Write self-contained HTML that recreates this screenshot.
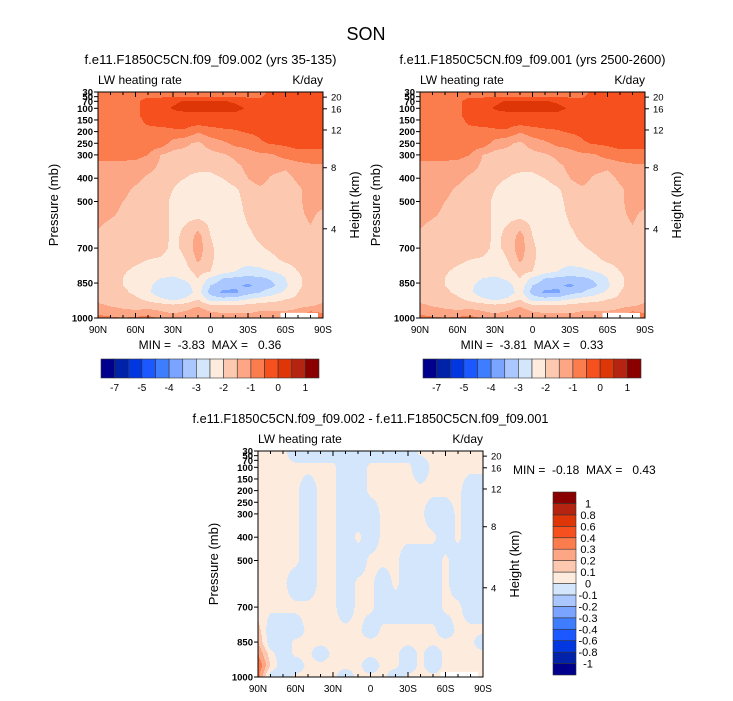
<!DOCTYPE html>
<html><head><meta charset="utf-8"><title>SON LW heating rate</title>
<style>
html,body{margin:0;padding:0;background:#fff;}
svg{display:block;font-family:"Liberation Sans",Arial,sans-serif;}
</style></head>
<body>
<svg id="fig" width="733" height="701" viewBox="0 0 733 701" xmlns="http://www.w3.org/2000/svg">
<text x="366" y="40" font-size="18" text-anchor="middle">SON</text>
</svg>
<script>
// ---------- data ----------
const lats = [90,80,70,60,50,40,30,20,10,0,-10,-20,-30,-40,-50,-60,-70,-80,-90];
const latTickVals = [90,60,30,0,-30,-60,-90];
const latTickLabels = ["90N","60N","30N","0","30S","60S","90S"];
const presTickVals = [30,50,70,100,150,200,250,300,400,500,700,850,1000];
const presTickLabels = ["30","50","70","100","150","200","250","300","400","500","700","850","1000"];
const heightTickLabels = ["20","16","12","8","4"];
const heightTickPres = [52,102,193,355,617];
const levelsTop = [30,50,70,100,130,160,200,250,300,350,400,450,500,550,600,650,700,750,800,830,860,890,920,950,980,1000];
const fieldTop = [
[-0.7,-0.7,-0.7,-0.7,-0.7,-0.7,-0.7,-0.7,-0.7,-0.7,-0.7,-0.7,-0.7,-0.7,-0.3,-0.3,-0.3,-0.3,-0.3],
[-0.7,-0.7,-0.7,-0.7,-0.55,-0.55,-0.55,-0.55,-0.55,-0.55,-0.55,-0.55,-0.55,-0.55,-0.3,-0.3,-0.3,-0.3,-0.3],
[-0.7,-0.7,-0.7,-0.6,-0.3,-0.3,-0.1,0.05,0.05,0.05,0.05,-0.1,-0.3,-0.3,-0.3,-0.3,-0.3,-0.3,-0.3],
[-0.7,-0.7,-0.7,-0.6,-0.3,-0.2,0.05,0.2,0.2,0.2,0.2,0.2,-0.1,-0.3,-0.3,-0.3,-0.3,-0.3,-0.3],
[-0.7,-0.7,-0.7,-0.6,-0.3,-0.3,-0.2,-0.2,-0.2,-0.2,-0.2,-0.2,-0.3,-0.3,-0.3,-0.3,-0.3,-0.3,-0.3],
[-0.7,-0.7,-0.7,-0.7,-0.4,-0.3,-0.3,-0.3,-0.3,-0.3,-0.3,-0.3,-0.3,-0.3,-0.3,-0.3,-0.3,-0.3,-0.3],
[-0.7,-0.7,-0.7,-0.7,-0.7,-0.7,-0.6,-0.6,-0.95,-0.7,-0.6,-0.55,-0.45,-0.4,-0.3,-0.3,-0.3,-0.3,-0.3],
[-0.7,-0.7,-0.7,-0.7,-0.7,-0.7,-1.2,-1.4,-1.6,-1.3,-1.1,-0.85,-0.8,-0.55,-0.45,-0.4,-0.3,-0.3,-0.3],
[-0.8,-0.8,-0.8,-0.85,-1.0,-1.5,-1.7,-1.7,-1.7,-1.65,-1.55,-1.4,-1.2,-1.1,-1.05,-0.8,-0.7,-0.7,-0.7],
[-1.2,-1.2,-1.2,-1.2,-1.3,-1.6,-1.8,-1.9,-1.9,-1.9,-1.8,-1.6,-1.4,-1.2,-1.3,-1.4,-1.2,-1.1,-1.1],
[-1.2,-1.2,-1.2,-1.35,-1.6,-1.7,-1.85,-2.0,-2.1,-2.1,-2.0,-1.7,-1.5,-1.3,-1.6,-1.7,-1.4,-1.2,-1.2],
[-1.2,-1.2,-1.35,-1.6,-1.7,-1.8,-2.0,-2.3,-2.3,-2.3,-2.3,-2.1,-1.7,-1.6,-1.7,-1.7,-1.6,-1.3,-1.2],
[-1.2,-1.3,-1.5,-1.7,-1.75,-1.8,-2.1,-2.3,-2.3,-2.3,-2.3,-2.2,-1.8,-1.7,-1.7,-1.7,-1.6,-1.3,-1.3],
[-1.3,-1.4,-1.6,-1.7,-1.75,-1.8,-2.1,-2.2,-2.3,-2.3,-2.3,-2.2,-1.9,-1.75,-1.75,-1.7,-1.6,-1.4,-1.6],
[-1.45,-1.6,-1.7,-1.75,-1.75,-1.8,-2.1,-2.0,-1.7,-2.1,-2.3,-2.25,-2.0,-1.8,-1.75,-1.7,-1.65,-1.5,-1.7],
[-1.6,-1.65,-1.7,-1.75,-1.75,-1.8,-2.1,-1.9,-1.3,-2.0,-2.3,-2.3,-2.1,-1.9,-1.8,-1.7,-1.7,-1.6,-1.7],
[-1.7,-1.7,-1.75,-1.8,-1.8,-1.85,-2.1,-1.9,-1.2,-1.9,-2.3,-2.3,-2.2,-2.05,-1.9,-1.8,-1.75,-1.7,-1.7],
[-1.7,-1.8,-1.8,-1.9,-2.0,-2.05,-2.2,-2.0,-1.4,-1.9,-2.3,-2.4,-2.4,-2.3,-2.1,-1.9,-1.8,-1.7,-1.7],
[-1.7,-1.8,-1.95,-2.1,-2.2,-2.2,-2.25,-2.2,-1.8,-2.0,-2.3,-2.5,-2.6,-2.6,-2.5,-2.3,-2.0,-1.8,-1.7],
[-1.7,-1.8,-2.0,-2.2,-2.3,-2.5,-2.6,-2.4,-2.0,-2.6,-3.0,-3.1,-3.2,-3.1,-2.9,-2.5,-2.1,-1.8,-1.7],
[-1.7,-1.8,-2.0,-2.2,-2.4,-2.7,-2.8,-2.7,-2.2,-3.0,-3.3,-3.4,-3.6,-3.3,-3.1,-2.6,-2.1,-1.8,-1.7],
[-1.7,-1.7,-1.9,-2.1,-2.4,-2.8,-2.9,-2.8,-2.3,-3.2,-3.6,-3.6,-3.2,-3.0,-2.7,-2.4,-2.0,-1.8,-1.7],
[-1.6,-1.7,-1.8,-1.9,-2.1,-2.4,-2.6,-2.4,-2.0,-2.7,-2.8,-2.7,-2.5,-2.3,-2.2,-2.0,-1.9,-1.8,-1.6],
[-1.4,-1.5,-1.6,-1.7,-1.7,-1.7,-1.8,-1.7,-1.5,-1.8,-1.8,-1.8,-1.8,-1.7,-1.7,-1.7,-1.6,-1.5,-1.4],
[-1.1,-1.2,-1.3,-1.3,-1.2,-1.4,-1.5,-1.4,-1.2,-1.4,-1.5,-1.5,-1.5,-1.4,-1.4,-1.4,-1.3,-0.8,-1.0],
[-0.8,-0.9,-1.0,-0.9,-0.8,-1.1,-1.3,-1.2,-1.0,-1.2,-1.3,-1.3,-1.3,-1.2,-1.2,-1.2,-1.1,-0.6,-1.0]
];
const levelsDiff = [30,100,200,300,400,500,600,700,800,850,900,950,1000];
const fieldDiff = [
[0.03,0.03,0.03,-0.08,-0.08,-0.08,-0.08,-0.08,-0.08,-0.08,-0.08,-0.08,-0.08,0.03,0.03,0.03,0.03,0.03,0.03],
[0.03,0.03,0.03,0.03,0.03,0.03,0.03,-0.08,-0.08,0.03,0.03,0.03,0.03,-0.08,0.03,0.03,0.03,0.03,0.03],
[0.03,0.03,0.03,0.03,-0.08,0.03,0.03,-0.08,-0.08,0.03,0.03,0.03,0.03,0.03,0.03,0.03,0.03,-0.08,-0.08],
[0.03,0.03,0.03,0.03,-0.08,0.03,0.03,-0.08,-0.08,-0.08,0.03,0.03,0.03,0.03,-0.08,-0.08,0.03,-0.08,-0.08],
[0.03,0.03,0.03,0.03,-0.08,0.03,0.03,-0.08,0.03,-0.08,0.03,0.03,0.03,0.03,0.03,-0.08,0.03,-0.08,-0.08],
[0.03,0.03,0.03,0.03,-0.08,0.03,0.03,-0.08,-0.08,0.03,0.03,0.03,-0.08,-0.08,-0.08,0.03,-0.08,-0.08,-0.08],
[0.03,0.03,0.03,-0.08,-0.08,0.03,0.03,-0.08,0.03,0.03,-0.08,0.03,-0.08,-0.08,-0.08,0.03,-0.08,-0.08,-0.08],
[0.03,0.03,0.03,0.03,0.03,0.03,0.03,-0.08,0.03,0.03,-0.08,-0.08,-0.08,-0.08,-0.08,0.03,0.03,-0.08,-0.08],
[0.15,-0.08,-0.08,-0.08,0.03,0.03,0.03,0.03,0.03,-0.08,0.03,0.03,0.03,0.03,0.03,-0.08,0.03,0.03,0.03],
[0.2,-0.08,-0.08,0.03,0.03,0.03,0.03,0.03,0.03,0.03,0.03,0.03,0.03,0.03,0.03,0.03,0.03,0.03,-0.08],
[0.3,0.04,-0.08,0.03,0.03,-0.08,0.03,0.03,0.03,0.03,0.03,0.03,-0.08,0.03,-0.08,0.03,0.03,0.03,0.03],
[0.4,0.1,-0.08,-0.08,0.03,0.03,0.03,0.03,0.03,-0.08,0.03,0.03,-0.08,0.03,-0.08,0.03,0.03,0.03,0.03],
[0.35,-0.08,-0.08,0.03,0.03,0.03,0.03,-0.08,0.03,0.03,0.03,-0.08,0.03,0.03,0.03,0.03,0.03,0.03,0.03]
];
const thresholdsTop = [-7,-6,-5,-4.5,-4,-3.5,-3,-2.5,-2,-1.5,-1,-0.5,0,0.5,1];
const topBarLabels = ["-7","-5","-4","-3","-2","-1","0","1"];
const thresholdsDiff = [-1,-0.8,-0.6,-0.4,-0.3,-0.2,-0.1,0,0.1,0.2,0.3,0.4,0.6,0.8,1];
const diffBarLabels = ["-1","-0.8","-0.6","-0.4","-0.3","-0.2","-0.1","0","0.1","0.2","0.3","0.4","0.6","0.8","1"];
const palette = ["#00008c","#0022a8","#0037e0","#1c58ff","#3f7dff","#7aa4ff","#aac8ff","#d4e6fc","#fdebdd","#fcc8b0","#fca686","#fb7c4c","#f5501e","#df3607","#b52410","#8a0000"];

// ---------- helpers ----------
const NS = "http://www.w3.org/2000/svg";
const svg = document.getElementById("fig");
function mk(tag, attrs, parent){
  const e = document.createElementNS(NS, tag);
  for (const k in attrs) e.setAttribute(k, attrs[k]);
  (parent||svg).appendChild(e);
  return e;
}
function txt(x,y,s,size,anchor,parent,rot){
  const t = mk("text",{x:x,y:y,"font-size":size,"text-anchor":anchor||"start",fill:"#000"},parent);
  if (rot) t.setAttribute("transform","rotate(-90 "+x+" "+y+")");
  t.textContent = s;
  return t;
}
function classify(v, th){ let i=0; while(i<th.length && v>=th[i]) i++; return i; }
function sample(levels, field, fc, p){
  let r=0; while(r<levels.length-2 && p>levels[r+1]) r++;
  let tr=(p-levels[r])/(levels[r+1]-levels[r]); tr=Math.max(0,Math.min(1,tr));
  let c=Math.min(Math.floor(fc), lats.length-2); let tc=fc-c;
  const a=field[r][c], b=field[r][c+1], d=field[r+1][c], e=field[r+1][c+1];
  return (a*(1-tc)+b*tc)*(1-tr)+(d*(1-tc)+e*tc)*tr;
}
function latToFrac(lat){
  for(let i=0;i<lats.length-1;i++){ if(lat<=lats[i] && lat>=lats[i+1]) return i+(lats[i]-lat)/(lats[i]-lats[i+1]); }
  return 0;
}

function panel(opts){
  const x0=opts.x, y0=opts.y, w=225, h=226;
  const xS = lat => x0 + (90-lat)/180*w;
  const yS = p => y0 + (p-30)/970*h;
  const g = mk("g",{});
  
  
  const fg = mk("g",{"shape-rendering":"crispEdges"},g);
  
  
  for(let py=0; py<h; py++){
    const p = 30 + (py+0.5)/h*970;
    let runStart=0, runCls=-1;
    for(let px=0; px<=w; px++){
      let cls=-2;
      if(px<w){
        const lat = 90 - (px+0.5)/w*180;
        const v = sample(opts.levels, opts.field, latToFrac(lat), p);
        cls = classify(v, opts.th);
      }
      if(cls!==runCls){
        if(runCls>=0){
          const r = mk("rect",{x:x0+runStart,y:y0+py,width:px-runStart,height:1,fill:palette[runCls]},fg);
          
          
        }
        runStart=px; runCls=cls;
      }
    }
  }
  if(opts.whitePatch){
    const wp = mk("rect",{x:xS(-56),y:yS(978),width:xS(-86)-xS(-56),height:yS(1000)-yS(978),fill:"#fff"},g);
    
    
  }
  const fr = mk("rect",{x:x0,y:y0,width:w,height:h,fill:"none",stroke:"#000","stroke-width":1},g);
  
  
  for(let lat=90; lat>=-90; lat-=10){
    const major = latTickVals.indexOf(lat)>=0;
    const len = major?5:3;
    const t1 = mk("line",{x1:xS(lat),x2:xS(lat),y1:y0+h,y2:y0+h-len,stroke:"#000"},g);
    
    
    const t2 = mk("line",{x1:xS(lat),x2:xS(lat),y1:y0,y2:y0+len,stroke:"#000"},g);
    
    
  }
  latTickVals.forEach((lat,i)=>{
    const t = txt(xS(lat), y0+h+15, latTickLabels[i], 10, "middle", g);
    
    
  });
  presTickVals.forEach((p,i)=>{
    const l = mk("line",{x1:x0-4,x2:x0,y1:yS(p),y2:yS(p),stroke:"#000"},g);
    
    
    const t = txt(x0-5, yS(p)+3.5, presTickLabels[i], 9.5, "end", g);
    
    
    t.setAttribute('font-weight','bold');
  });
  heightTickPres.forEach((p,i)=>{
    const l = mk("line",{x1:x0+w,x2:x0+w+4,y1:yS(p),y2:yS(p),stroke:"#000"},g);
    
    
    const t = txt(x0+w+8, yS(p)+3.5, heightTickLabels[i], 9.5, "start", g);
    
    
  });
  const yt = txt(x0-40, y0+h/2, "Pressure (mb)", 13, "middle", g, true);
  
  
  const ht = txt(x0+w+36, y0+h/2, "Height (km)", 13, "middle", g, true);
  
  
  const lw = txt(x0, y0-8, "LW heating rate", 12, "start", g);
  
  
  const un = txt(x0+w, y0-8, "K/day", 12, "end", g);
  
  
  const st = txt(x0+w/2, y0-28, opts.title, 12.5, "middle", g);
  
  
  st.setAttribute('textLength', opts.titleLen);
  st.setAttribute('lengthAdjust','spacingAndGlyphs');
  if(opts.minmax){
    const mm = txt(opts.minmax[0], opts.minmax[1], opts.minmaxText, 12, opts.minmax[2], g);
    
    
    mm.style.whiteSpace='pre';
  }
  return g;
}

function hbar(x0,y0){
  const w=218, h=19, bw=w/16;
  const g = mk("g",{});
  
  
  palette.forEach((c,i)=>{
    const r = mk("rect",{x:x0+i*bw,y:y0,width:bw,height:h,fill:c,stroke:"#333","stroke-width":0.6},g);
    
    
  });
  topBarLabels.forEach((s,k)=>{
    const i = thresholdsTop.indexOf(Number(s));
    const t = txt(x0+(i+1)*bw, y0+h+13, s, 10, "middle", g);
    
    
  });
}
function vbar(x0,y0){
  const w=23, h=183, bh=h/16;
  const g = mk("g",{});
  
  
  palette.forEach((c,i)=>{
    const r = mk("rect",{x:x0,y:y0+(15-i)*bh,width:w,height:bh,fill:c,stroke:"#333","stroke-width":0.6},g);
    
    
  });
  diffBarLabels.forEach((s,i)=>{
    const t = txt(x0+35, y0+(15-i)*bh+4, s, 11, "middle", g);
    
    
  });
}

panel({name:"panel-002", x:98, y:92, levels:levelsTop, field:fieldTop, th:thresholdsTop, whitePatch:true,
  title:"f.e11.F1850C5CN.f09_f09.002 (yrs 35-135)", titleLen:252,
  minmax:[210,349,"middle"], minmaxText:"MIN =  -3.83  MAX =   0.36"});
panel({name:"panel-001", x:420, y:92, levels:levelsTop, field:fieldTop, th:thresholdsTop, whitePatch:true,
  title:"f.e11.F1850C5CN.f09_f09.001 (yrs 2500-2600)", titleLen:266,
  minmax:[532,349,"middle"], minmaxText:"MIN =  -3.81  MAX =   0.33"});
panel({name:"panel-difference", x:258, y:451, levels:levelsDiff, field:fieldDiff, th:thresholdsDiff, whitePatch:true,
  title:"f.e11.F1850C5CN.f09_f09.002 - f.e11.F1850C5CN.f09_f09.001", titleLen:356,
  minmax:[513,474,"start"], minmaxText:"MIN =  -0.18  MAX =   0.43"});
hbar(101,359);
hbar(423,359);
vbar(553,492);
</script>
</body></html>
